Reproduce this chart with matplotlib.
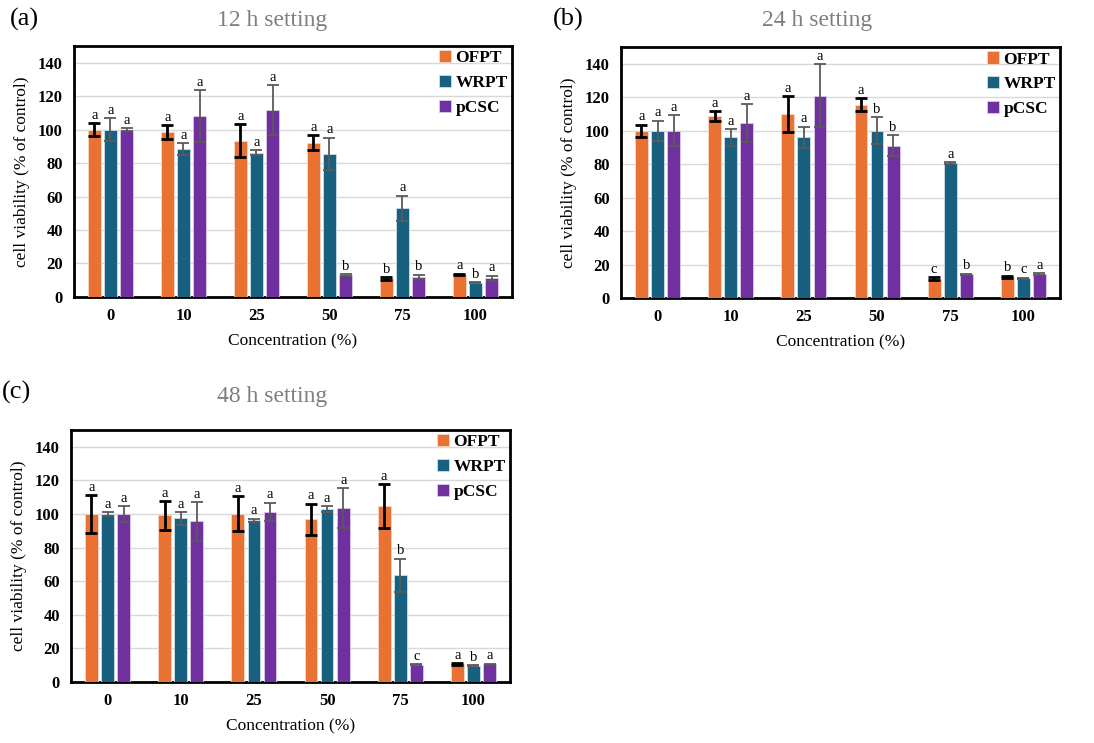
import matplotlib
matplotlib.use("Agg")
import matplotlib.pyplot as plt
import numpy as np

categories = ["0", "10", "25", "50", "75", "100"]
series = ["OFPT", "WRPT", "pCSC"]

# 12 h
a_ofpt = [100, 98.6, 93.4, 92.0, 11.2, 13.4]
a_ofpt_err = [3.8, 4.0, 10.0, 4.5, 0.8, 0.5]
a_wrpt = [100, 88.4, 86.2, 85.6, 53.0, 8.4]
a_wrpt_err = [6.8, 3.3, 1.4, 9.6, 7.6, 0.3]
a_pcsc = [100, 108.2, 111.6, 13.0, 12.2, 11.2]
a_pcsc_err = [0.8, 15.4, 14.8, 0.5, 1.2, 1.6]
a_letters = [["a", "a", "a", "a", "b", "a"],
             ["a", "a", "a", "a", "a", "b"],
             ["a", "a", "a", "b", "b", "a"]]

# 24 h
b_ofpt = [100, 108.8, 110.0, 115.6, 11.6, 12.8]
b_ofpt_err = [3.5, 3.0, 10.6, 3.7, 1.0, 0.6]
b_wrpt = [100, 96.0, 96.0, 100, 80.6, 11.8]
b_wrpt_err = [6.0, 5.0, 6.5, 8.2, 0.6, 0.4]
b_pcsc = [100, 104.6, 121.0, 91.0, 14.2, 14.4]
b_pcsc_err = [9.2, 11.2, 18.6, 6.4, 0.4, 0.4]
b_letters = [["a", "a", "a", "a", "c", "b"],
             ["a", "a", "a", "b", "a", "c"],
             ["a", "a", "a", "b", "b", "a"]]

# 48 h
c_ofpt = [100, 99.2, 100.2, 96.8, 104.6, 10.6]
c_ofpt_err = [11.3, 8.6, 10.4, 9.4, 13.0, 0.5]
c_wrpt = [100, 97.4, 96.2, 102.8, 63.5, 9.6]
c_wrpt_err = [1.0, 3.8, 1.0, 1.8, 10.0, 0.3]
c_pcsc = [100, 95.6, 101.4, 103.4, 10.2, 10.6]
c_pcsc_err = [4.6, 11.6, 5.4, 12.0, 0.3, 0.4]
c_letters = [["a", "a", "a", "a", "a", "a"],
             ["a", "a", "a", "a", "b", "b"],
             ["a", "a", "a", "a", "c", "a"]]

yticks = [0, 20, 40, 60, 80, 100, 120, 140]
colors = ["#E97132", "#17607F", "#7030A0"]
edge_colors = ["#f3d9c8", "#cfe0ea", "#dccbe8"]
err_colors = ["black", "#5a5a5a", "#5a5a5a"]
err_lw = [2.0, 1.3, 1.3]

plt.rcParams["font.family"] = ["Liberation Serif", "DejaVu Serif"]

fig = plt.figure(figsize=(10.94, 7.43), dpi=100)


def panel(rect, vals, errs, letters):
    ax = fig.add_axes(rect)
    x = np.arange(len(categories))
    w = 0.175
    off = 0.22
    for i, (v, e) in enumerate(zip(vals, errs)):
        xs = x + (i - 1) * off
        ax.bar(xs, v, width=w, color=colors[i], edgecolor=edge_colors[i],
               linewidth=0.6, label=series[i], zorder=3)
        ax.errorbar(xs, v, yerr=e, fmt="none", ecolor=err_colors[i], elinewidth=err_lw[i],
                    capsize=4, capthick=err_lw[i], zorder=4)
        for xi, vi, ei, L in zip(xs, v, e, letters[i]):
            ax.text(xi, vi + ei + 0.8, L, ha="center", va="bottom", fontsize=10.5, zorder=5)
    ax.set_xlim(-0.5, 5.5)
    ax.set_ylim(0, 150)
    ax.set_yticks(yticks)
    ax.set_xticks(x)
    ax.set_xticklabels(categories, fontweight="bold", fontsize=12)
    for t in ax.get_yticklabels():
        t.set_fontweight("bold")
        t.set_fontsize(12)
    ax.tick_params(axis="both", length=0, pad=8)
    ax.yaxis.grid(True, color="#d9d9d9", linewidth=1.0, zorder=0)
    ax.set_axisbelow(True)
    for s in ax.spines.values():
        s.set_linewidth(2.0)
        s.set_color("black")
    ax.set_ylabel("cell viability (% of control)", fontsize=12.5, labelpad=6)
    ax.set_xlabel("Concentration (%)", fontsize=12.5, labelpad=7)
    ax.legend(loc="upper right", frameon=False, prop={"weight": "bold", "size": 12.5},
              handlelength=0.7, handleheight=0.7, handletextpad=0.25,
              labelspacing=0.5, borderaxespad=0.0, borderpad=0.25)
    return ax


panel([0.0676, 0.6003, 0.4004, 0.338], [a_ofpt, a_wrpt, a_pcsc], [a_ofpt_err, a_wrpt_err, a_pcsc_err], a_letters)
panel([0.5676, 0.5989, 0.4013, 0.3378], [b_ofpt, b_wrpt, b_pcsc], [b_ofpt_err, b_wrpt_err, b_pcsc_err], b_letters)
panel([0.0649, 0.0821, 0.4013, 0.3392], [c_ofpt, c_wrpt, c_pcsc], [c_ofpt_err, c_wrpt_err, c_pcsc_err], c_letters)

fig.text(0.249, 0.973, "12 h setting", ha="center", va="center", fontsize=17, color="#7f7f7f")
fig.text(0.747, 0.973, "24 h setting", ha="center", va="center", fontsize=17, color="#7f7f7f")
fig.text(0.249, 0.466, "48 h setting", ha="center", va="center", fontsize=17, color="#7f7f7f")
fig.text(0.009, 0.974, "(a)", ha="left", va="center", fontsize=19)
fig.text(0.505, 0.974, "(b)", ha="left", va="center", fontsize=19)
fig.text(0.002, 0.472, "(c)", ha="left", va="center", fontsize=19)

fig.savefig("out.png", dpi=100)
